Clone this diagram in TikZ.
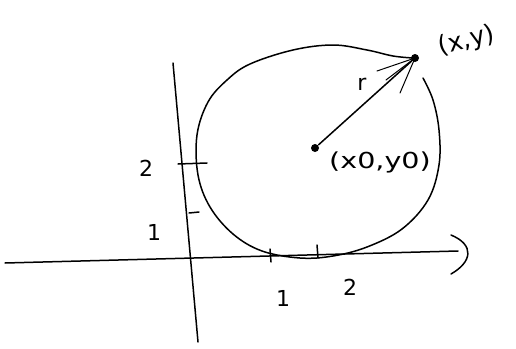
\documentclass[tikz,border=0pt]{standalone}
\usepackage{fontspec}
\setmainfont{DejaVu Sans}
\begin{document}
\begin{tikzpicture}[x=1pt,y=-1pt, line width=1.5pt, line cap=round, line join=round,
  lbl/.style={font=\fontsize{22}{26}\selectfont, inner sep=0pt},
  dotnode/.style={circle, fill=black, inner sep=0pt, minimum size=8pt},
  fan/.style={line width=1pt}]
\useasboundingbox (0,0) rectangle (516,348);
\fill[white] (0,0) rectangle (516,348);
% axes
\coordinate (xa0) at (5,263);
\coordinate (xa1) at (458,251);
\draw (xa0) -- (xa1);
\coordinate (ah0) at (451,235);
\coordinate (ah1) at (451,274);
\draw (ah0) .. controls (475,245) and (472,262) .. (ah1);
\coordinate (ya0) at (173,63);
\coordinate (ya1) at (198,342);
\draw (ya0) -- (ya1);
% ticks
\draw (178,164) -- (207,163);
\draw (189,213) -- (199,212);
\draw (270,249) -- (271,262);
\draw (317,245) -- (318,258);
% tick labels
\node[lbl] (ly2) at (146,168) {2};
\node[lbl] (ly1) at (154,232) {1};
\node[lbl] (lx1) at (283,298) {1};
\node[lbl] (lx2) at (350,287) {2};
% circle
\draw plot[smooth, tension=0.6] coordinates {(423,78) (433,100) (439,130) (439,165) (428,200) (402,229) (367,247) (333,256) (300,258) (262,251) (233,234) (210,207) (198,175) (197,135) (208,102) (227,80) (250,64) (293,50) (333,45) (367,50) (393,56) (413,58)};
% points
\node[dotnode] (c) at (315,148) {};
\node[dotnode] (p) at (415,58) {};
\draw (c) -- (p);
\coordinate (h1) at (377,71);
\coordinate (h2) at (386,80);
\coordinate (h3) at (400,93);
\draw[fan] (p.center) -- (h1);
\draw[fan] (p.center) -- (h2);
\draw[fan] (p.center) -- (h3);
% labels
\node[lbl] (r) at (362,84) {r};
\node[font=\fontsize{25}{30}\selectfont, inner sep=0pt, rotate=14] (pl) at (467,41) {(x,y)};
\node[lbl, xscale=1.3] (cl) at (380,162) {(x0,y0)};
\end{tikzpicture}
\end{document}
